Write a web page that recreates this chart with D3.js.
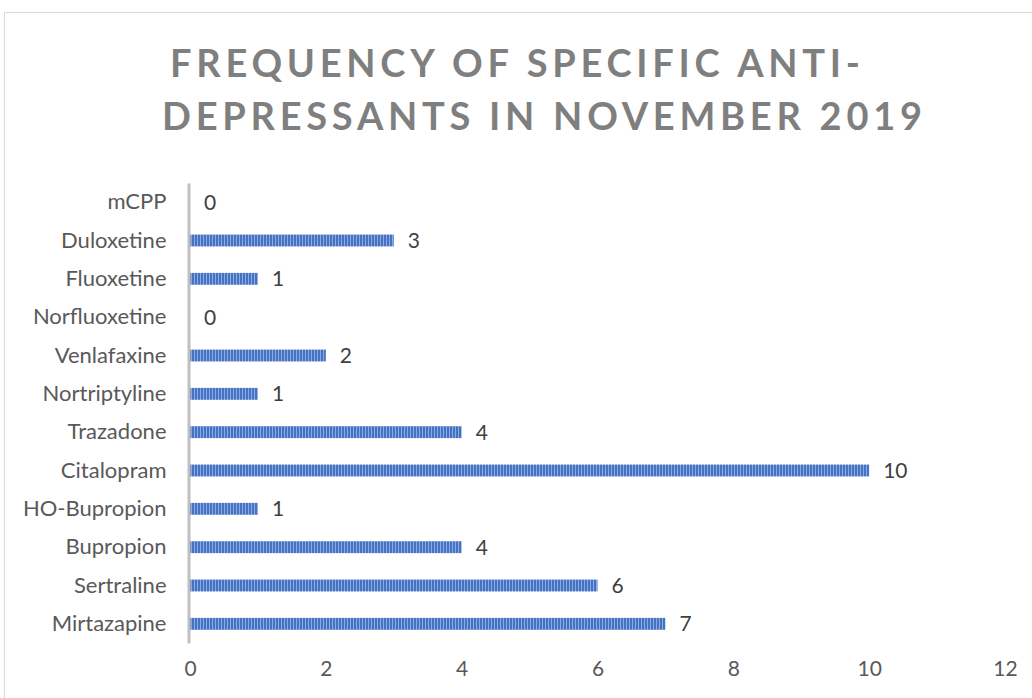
<!DOCTYPE html>
<html>
<head>
<meta charset="utf-8">
<script src="https://cdn.jsdelivr.net/npm/d3@7"></script>
<style>
  body { margin: 0; background: #fff; }
  svg { display: block; }
</style>
</head>
<body>
<svg width="1032" height="698"></svg>
<script>
// data, top to bottom as shown
var drugs = ["mCPP", "Duloxetine", "Fluoxetine", "Norfluoxetine", "Venlafaxine",
    "Nortriptyline", "Trazadone", "Citalopram", "HO-Bupropion", "Bupropion",
    "Sertraline", "Mirtazapine"];
var counts = [0, 3, 1, 0, 2, 1, 4, 10, 1, 4, 6, 7];
var xTicks = [0, 2, 4, 6, 8, 10, 12];
var titleLines = ["FREQUENCY OF SPECIFIC ANTI-", "DEPRESSANTS IN NOVEMBER 2019"];

var svg = d3.select("svg");
var width = +svg.attr("width");
var height = +svg.attr("height");

// chart frame
svg.append("rect")
    .attr("x", 4.5).attr("y", 12.5)
    .attr("width", width + 10).attr("height", height + 10)
    .attr("fill", "#fff")
    .attr("stroke", "#d9d9d9");

// stripe pattern
var pat = svg.append("defs").append("pattern")
    .attr("id", "stripes")
    .attr("patternUnits", "userSpaceOnUse")
    .attr("width", 3).attr("height", 10);
pat.append("rect").attr("width", 3).attr("height", 10).attr("fill", "#8faadc");
pat.append("rect").attr("width", 2).attr("height", 10).attr("fill", "#4472c4");

// title
var titleX = [515, 542];
svg.append("g").selectAll("text")
    .data(titleLines)
    .enter().append("text")
    .attr("x", function (d, i) { return titleX[i]; })
    .attr("y", function (d, i) { return 77 + i * 53; })
    .attr("text-anchor", "middle")
    .attr("font-family", "Lato")
    .attr("font-weight", "bold")
    .attr("font-size", 38)
    .attr("fill", "#7f7f7f")
    .attr("textLength", function (d, i) { return i === 0 ? 690 : 760; })
    .attr("lengthAdjust", "spacing")
    .text(function (d) { return d; });

var x = d3.scaleLinear()
    .domain([0, 12])
    .range([190, 1005]);

var y = d3.scaleBand()
    .domain(drugs)
    .range([183, 643])
    .paddingInner(0.69)
    .paddingOuter(0.345);

// bars
svg.append("g")
    .selectAll("rect")
    .data(counts)
    .enter().append("rect")
    .attr("x", x(0))
    .attr("y", function (d, i) { return y(drugs[i]); })
    .attr("width", function (d) { return x(d) - x(0); })
    .attr("height", y.bandwidth())
    .attr("fill", "url(#stripes)");

// value labels
svg.append("g")
    .selectAll("text")
    .data(counts)
    .enter().append("text")
    .attr("x", function (d) { return x(d) + 14; })
    .attr("y", function (d, i) { return y(drugs[i]) + y.bandwidth() / 2; })
    .attr("dy", "0.36em")
    .attr("font-family", "Lato")
    .attr("font-size", 21)
    .attr("fill", "#404040")
    .text(function (d) { return d; });

// y axis
var yAxis = svg.append("g")
    .attr("transform", "translate(" + (x(0) - 1.5) + ",0)")
    .call(d3.axisLeft(y).tickSize(0).tickPadding(22));
yAxis.select(".domain")
    .attr("stroke", "#bfbfbf")
    .attr("stroke-width", 3);
yAxis.selectAll("text")
    .attr("font-family", "Lato")
    .attr("font-size", 22)
    .attr("fill", "#595959");

// x axis, labels only
var xAxis = svg.append("g")
    .attr("transform", "translate(0,658)")
    .call(d3.axisBottom(x).tickValues(xTicks).tickSize(0).tickPadding(3));
xAxis.select(".domain").remove();
xAxis.selectAll("text")
    .attr("font-family", "Lato")
    .attr("font-size", 21)
    .attr("fill", "#595959");
</script>
</body>
</html>
